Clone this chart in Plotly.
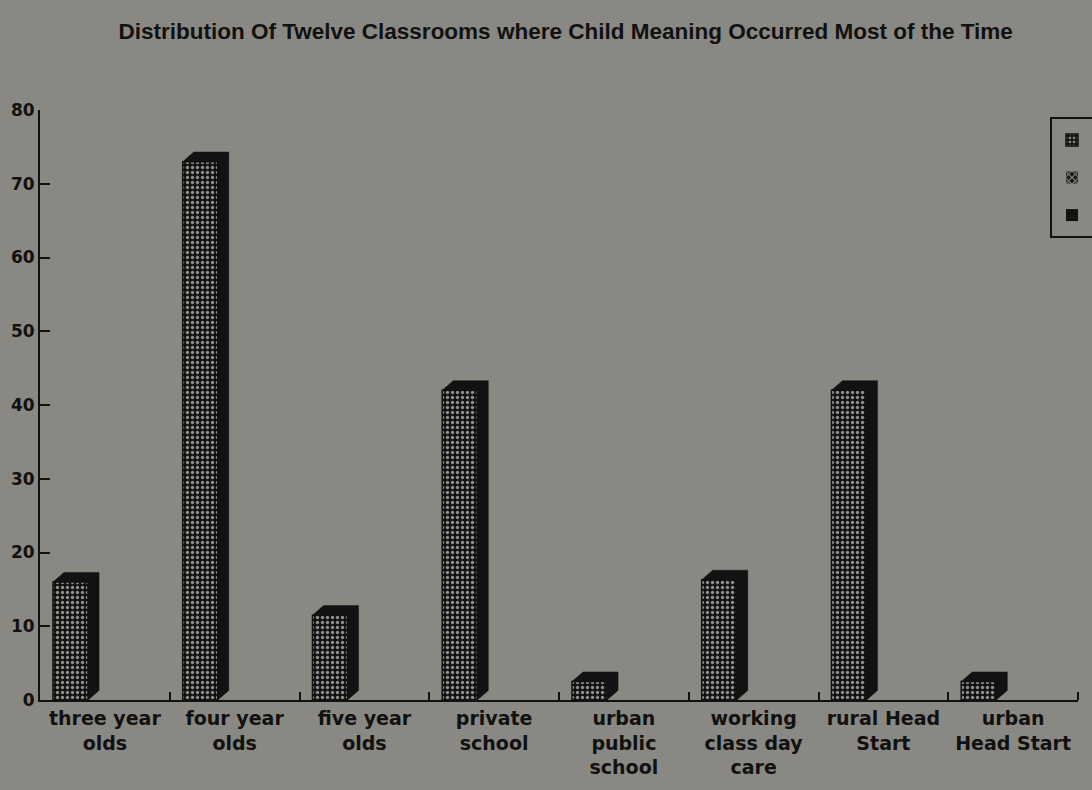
import plotly.graph_objects as go

# Classroom groups and the share (%) of each where child meaning occurred most of the time
categories = ["three year<br>olds", "four year<br>olds", "five year<br>olds", "private<br>school",
              "urban<br>public<br>school", "working<br>class day<br>care", "rural Head<br>Start",
              "urban<br>Head Start"]
most_of_time = [16, 73, 11.5, 42, 2.5, 16.3, 42, 2.5]
series_two = [0, 0, 0, 0, 0, 0, 0, 0]
series_three = [0, 0, 0, 0, 0, 0, 0, 0]
y_ticks = [0, 10, 20, 30, 40, 50, 60, 70, 80]

BG = "#8a8883"
DARK = "#121212"
DOT = "#8e8e8c"
INK = "#111111"

idx = list(range(len(categories)))
width = 0.27
offset = -0.40
depth_x = 0.085
depth_y = 1.3

fig = go.Figure()

# front faces of the bars
fig.add_trace(go.Bar(
    x=idx, y=most_of_time, width=width, offset=offset, name="",
    legendgroup="a",
    marker=dict(color=DARK, line=dict(width=1.5, color=DARK),
                pattern=dict(shape=".", size=5, solidity=0.35, fgcolor=DOT, bgcolor=DARK,
                             fillmode="replace")),
))
fig.add_trace(go.Bar(
    x=idx, y=series_two, width=width, offset=offset + width, name="",
    legendgroup="b",
    marker=dict(color=DARK, line=dict(width=0, color=DARK),
                pattern=dict(shape="x", size=6, solidity=0.4, fgcolor=DOT, bgcolor=DARK,
                             fillmode="replace")),
))
fig.add_trace(go.Bar(
    x=idx, y=series_three, width=width, offset=offset + 2 * width, name="",
    legendgroup="c",
    marker=dict(color=DARK, line=dict(width=0, color=DARK)),
))

# top and side faces giving each bar its depth
px, py = [], []
for i, v in zip(idx, most_of_time):
    xl = i + offset
    xr = xl + width
    px += [xl, xl + depth_x, xr + depth_x, xr + depth_x, xr, xr, xl, None]
    py += [v, v + depth_y, v + depth_y, depth_y, 0, v, v, None]
fig.add_trace(go.Scatter(
    x=px, y=py, mode="lines", fill="toself", fillcolor=DARK,
    line=dict(width=0.5, color=DARK), showlegend=False, hoverinfo="skip",
))

fig.update_layout(
    width=1092, height=790,
    paper_bgcolor=BG, plot_bgcolor=BG,
    margin=dict(l=40, r=14, t=110, b=90, autoexpand=False),
    showlegend=True,
    barmode="overlay",
    title=dict(
        text="Distribution Of Twelve Classrooms where Child Meaning Occurred Most of the Time",
        x=0.518, xref="container", xanchor="center",
        y=1 - 31 / 790, yref="container", yanchor="middle",
        font=dict(family="Liberation Sans", size=22.5, color=INK, weight="bold"),
    ),
    legend=dict(
        x=0.973, xanchor="left", y=0.988, yanchor="top",
        bgcolor=BG, bordercolor=INK, borderwidth=2,
        font=dict(family="DejaVu Sans", size=22, color=INK),
        traceorder="grouped", tracegroupgap=6,
        entrywidth=80, entrywidthmode="pixels",
    ),
    xaxis=dict(
        range=[-0.5, 7.5], tickmode="array", tickvals=idx, ticktext=categories,
        ticks="", showgrid=False, zeroline=False,
        showline=True, linecolor=INK, linewidth=2,
        tickfont=dict(family="DejaVu Sans", size=19, color=INK, weight="bold"),
        minor=dict(tickmode="array", tickvals=[i + 0.5 for i in idx],
                   ticks="inside", ticklen=8, tickwidth=2, tickcolor=INK,
                   showgrid=False),
    ),
    yaxis=dict(
        range=[0, 80], tickmode="array", tickvals=y_ticks,
        ticks="inside", ticklen=10, tickwidth=2, tickcolor=INK,
        showgrid=False, zeroline=False,
        showline=True, linecolor=INK, linewidth=2,
        tickfont=dict(family="DejaVu Sans", size=17, color=INK, weight="bold"),
    ),
)

fig.write_html("out.html")
